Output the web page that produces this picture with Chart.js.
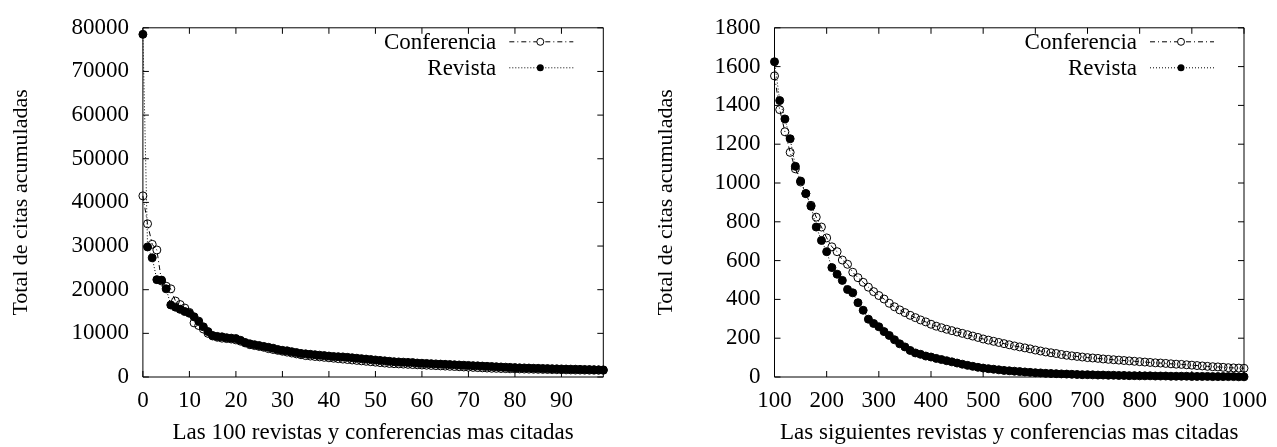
<!DOCTYPE html>
<html>
<head>
<meta charset="utf-8">
<script src="https://cdn.jsdelivr.net/npm/chart.js@4/dist/chart.umd.min.js"></script>
<style>
  html, body { margin: 0; padding: 0; background: #fff; }
  #wrap { position: relative; width: 1277px; height: 447px; background: #fff; }
  canvas { position: absolute; top: 0; }
  #top100 { left: 0; }
  #next { left: 640px; }
</style>
</head>
<body>
<div id="wrap">
  <canvas id="top100" width="640" height="447"></canvas>
  <canvas id="next" width="637" height="447"></canvas>
</div>
<script>
// ---- Las 100 revistas y conferencias más citadas (rango 0..99) ----
const rankTop = Array.from({ length: 100 }, (_, i) => i);

const conferenciaTop = [
  41500, 35100, 30400, 29100, 22000, 20800, 20200, 17400, 16600, 15800,
  14800, 12400, 11800, 11000, 10000, 9400, 9100, 8900, 8800, 8700,
  8500, 8200, 7800, 7400, 7200, 7000, 6800, 6500, 6300, 6100,
  5900, 5700, 5500, 5300, 5100, 4900, 4800, 4700, 4600, 4500,
  4400, 4300, 4200, 4100, 4000, 3900, 3800, 3700, 3600, 3500,
  3400, 3300, 3200, 3100, 3050, 3000, 2950, 2900, 2850, 2800,
  2750, 2700, 2650, 2600, 2550, 2500, 2450, 2400, 2350, 2300,
  2250, 2200, 2150, 2100, 2050, 2000, 1980, 1950, 1920, 1900,
  1870, 1850, 1820, 1800, 1780, 1760, 1740, 1720, 1700, 1680,
  1660, 1640, 1620, 1600, 1590, 1580, 1570, 1560, 1550, 1540
];

const revistaTop = [
  78500, 29800, 27300, 22300, 22200, 20200, 16500, 16000, 15500, 15000,
  14600, 13800, 12800, 11500, 10400, 9500, 9300, 9200, 9000, 8900,
  8800, 8400, 7900, 7600, 7400, 7200, 7000, 6800, 6600, 6300,
  6100, 6000, 5800, 5600, 5400, 5300, 5200, 5100, 5000, 4900,
  4800, 4700, 4650, 4600, 4500, 4400, 4300, 4200, 4100, 4000,
  3900, 3800, 3700, 3600, 3500, 3450, 3400, 3350, 3300, 3200,
  3150, 3100, 3050, 3000, 2950, 2900, 2850, 2800, 2750, 2700,
  2650, 2600, 2550, 2500, 2450, 2400, 2350, 2300, 2250, 2200,
  2150, 2100, 2080, 2050, 2000, 1980, 1950, 1920, 1900, 1870,
  1850, 1820, 1800, 1780, 1750, 1720, 1700, 1680, 1650, 1630
];

// ---- Las siguientes (rango 100..1000, cada 10) ----
const rankNext = Array.from({ length: 91 }, (_, i) => 100 + i * 10);

const conferenciaNext = [
  1552, 1378, 1264, 1158, 1073, 1005, 945, 885, 824, 773,
  717, 671, 646, 603, 581, 540, 512, 488, 463, 440,
  420, 402, 380, 362, 346, 332, 318, 306, 294, 284,
  272, 262, 254, 246, 239, 232, 225, 218, 211, 204,
  196, 190, 184, 178, 172, 166, 160, 155, 150, 145,
  139, 134, 129, 125, 121, 116, 112, 109, 106, 103,
  100, 98, 96, 93, 91, 89, 87, 85, 83, 81,
  79, 77, 75, 73, 72, 70, 68, 66, 65, 63,
  61, 59, 57, 55, 53, 52, 50, 48, 47, 46,
  45
];

const revistaNext = [
  1625, 1425, 1330, 1228, 1086, 1010, 946, 880, 773, 704,
  646, 564, 530, 498, 451, 434, 383, 344, 298, 276,
  259, 234, 214, 192, 171, 155, 137, 124, 117, 108,
  103, 96, 90, 84, 78, 72, 66, 60, 55, 50,
  46, 43, 40, 37, 34, 32, 30, 28, 26, 24,
  22, 21, 19, 18, 17, 16, 15, 14, 13, 12,
  12, 11, 10, 10, 9, 9, 8, 8, 7, 7,
  6, 6, 6, 5, 5, 5, 4, 4, 4, 4,
  3, 3, 3, 3, 2, 2, 2, 2, 2, 1,
  1
];

const yTicksTop = [0, 10000, 20000, 30000, 40000, 50000, 60000, 70000, 80000];
const xTicksTop = [0, 10, 20, 30, 40, 50, 60, 70, 80, 90];
const yTicksNext = [0, 200, 400, 600, 800, 1000, 1200, 1400, 1600, 1800];
const xTicksNext = [100, 200, 300, 400, 500, 600, 700, 800, 900, 1000];

const serif = "'Liberation Serif', 'Times New Roman', serif";
Chart.defaults.font.family = serif;
Chart.defaults.color = '#000';

// Box border with inward ticks on all four sides (gnuplot style)
const framePlugin = {
  id: 'frame',
  beforeDatasetsDraw(chart) {
    const { ctx, chartArea: a, scales } = chart;
    const tl = 6;
    ctx.save();
    ctx.strokeStyle = '#000';
    ctx.lineWidth = 1;
    ctx.beginPath();
    ctx.rect(a.left, a.top, a.right - a.left, a.bottom - a.top);
    ctx.stroke();
    ctx.beginPath();
    scales.x.ticks.forEach(t => {
      const px = scales.x.getPixelForValue(t.value);
      ctx.moveTo(px, a.bottom); ctx.lineTo(px, a.bottom - tl);
      ctx.moveTo(px, a.top); ctx.lineTo(px, a.top + tl);
    });
    scales.y.ticks.forEach(t => {
      const py = scales.y.getPixelForValue(t.value);
      ctx.moveTo(a.left, py); ctx.lineTo(a.left + tl, py);
      ctx.moveTo(a.right, py); ctx.lineTo(a.right - tl, py);
    });
    ctx.stroke();
    ctx.restore();
  }
};

// Key in the upper right corner: label, then a sample of the line with its marker
const keyPlugin = {
  id: 'key',
  afterDraw(chart) {
    const { ctx, chartArea: a } = chart;
    ctx.save();
    ctx.font = '23px ' + serif;
    ctx.fillStyle = '#000';
    ctx.textAlign = 'right';
    ctx.textBaseline = 'middle';
    chart.data.datasets.forEach((ds, i) => {
      const y = a.top + 14 + i * 26;
      ctx.fillText(ds.label, a.right - 107, y + 1);
      ctx.beginPath();
      ctx.setLineDash(ds.borderDash);
      ctx.lineWidth = 1;
      ctx.strokeStyle = '#000';
      ctx.moveTo(a.right - 94, y);
      ctx.lineTo(a.right - 30, y);
      ctx.stroke();
      ctx.setLineDash([]);
      ctx.beginPath();
      ctx.arc(a.right - 63, y, 3.5, 0, Math.PI * 2);
      if (ds.pointBackgroundColor !== 'rgba(0,0,0,0)') {
        ctx.fillStyle = '#000';
        ctx.fill();
      } else {
        ctx.fillStyle = '#fff';
        ctx.fill();
        ctx.stroke();
      }
      ctx.fillStyle = '#000';
    });
    ctx.restore();
  }
};

function pairs(xs, ys) {
  return xs.map((x, i) => ({ x: x, y: ys[i] }));
}

const plainNumber = v => String(v);

function makeChart(id, cfg) {
  const canvas = document.getElementById(id);
  return new Chart(canvas, {
    type: 'line',
    data: {
      datasets: [
        {
          label: 'Conferencia',
          data: pairs(cfg.xs, cfg.conf),
          borderColor: '#000',
          borderWidth: 1,
          borderDash: [5, 3, 1, 3],
          pointRadius: 4,
          pointBorderWidth: 1,
          pointBorderColor: '#000',
          pointBackgroundColor: 'rgba(0,0,0,0)',
          fill: false,
          tension: 0,
          clip: false,
          order: 1
        },
        {
          label: 'Revista',
          data: pairs(cfg.xs, cfg.rev),
          borderColor: '#000',
          borderWidth: 1,
          borderDash: [1, 2],
          pointRadius: 4,
          pointBorderWidth: 1,
          pointBorderColor: '#000',
          pointBackgroundColor: '#000',
          fill: false,
          tension: 0,
          clip: false,
          order: 0
        }
      ]
    },
    options: {
      responsive: false,
      animation: false,
      devicePixelRatio: 1,
      layout: { padding: { top: 23, right: cfg.padRight, left: 0, bottom: 0 } },
      plugins: { legend: { display: false }, tooltip: { enabled: false } },
      scales: {
        x: {
          type: 'linear',
          min: cfg.xMin,
          max: cfg.xMax,
          afterBuildTicks: s => { s.ticks = cfg.xTicks.map(v => ({ value: v })); },
          afterFit: s => { s.height = 70; },
          grid: { display: false, drawTicks: false },
          border: { display: false },
          ticks: { font: { size: 23 }, padding: 10, maxRotation: 0, autoSkip: false, color: '#000', callback: plainNumber },
          title: { display: true, text: cfg.xTitle, font: { size: 23 }, padding: { top: 0, bottom: 0 }, color: '#000' }
        },
        y: {
          type: 'linear',
          min: 0,
          max: cfg.yMax,
          afterBuildTicks: s => { s.ticks = cfg.yTicks.map(v => ({ value: v })); },
          afterFit: s => { s.width = cfg.yWidth; },
          grid: { display: false, drawTicks: false },
          border: { display: false },
          ticks: { font: { size: 23 }, padding: 14, autoSkip: false, color: '#000', callback: plainNumber },
          title: { display: true, text: 'Total de citas acumuladas', font: { size: 22 }, padding: { top: cfg.yTitlePad, bottom: 0 }, color: '#000' }
        }
      }
    },
    plugins: [framePlugin, keyPlugin]
  });
}

makeChart('top100', {
  xs: rankTop, conf: conferenciaTop, rev: revistaTop,
  xMin: 0, xMax: 99, yMax: 80000,
  xTicks: xTicksTop, yTicks: yTicksTop,
  xTitle: 'Las 100 revistas y conferencias mas citadas',
  yWidth: 142.9, padRight: 640 - 603.3, yTitlePad: 8
});

makeChart('next', {
  xs: rankNext, conf: conferenciaNext, rev: revistaNext,
  xMin: 100, xMax: 1000, yMax: 1800,
  xTicks: xTicksNext, yTicks: yTicksNext,
  xTitle: 'Las siguientes revistas y conferencias mas citadas',
  yWidth: 774.5 - 640, padRight: 637 - (1249.5 - 640), yTitlePad: 13
});
</script>
</body>
</html>
